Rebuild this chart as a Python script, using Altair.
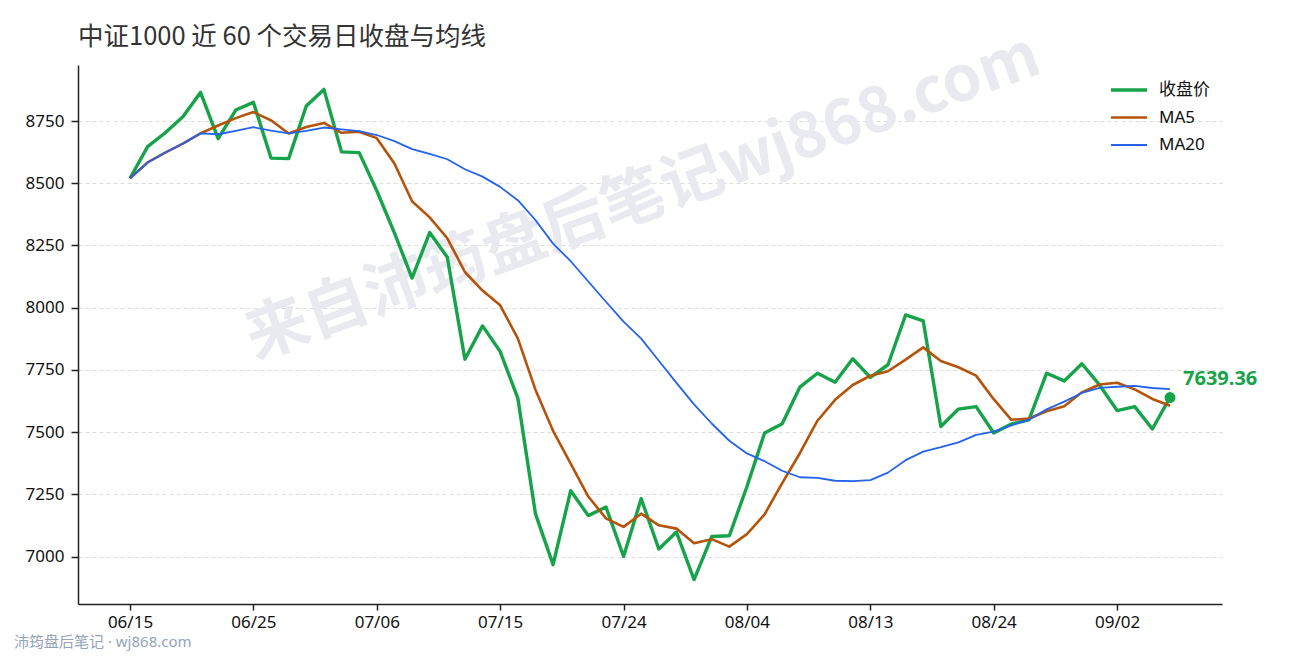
import altair as alt
import pandas as pd

plotWidth = 1144
plotHeight = 539

title = '中证1000 近 60 个交易日收盘与均线'
watermark = '来自沛筠盘后笔记wj868.com'
footer = '沛筠盘后笔记 · wj868.com'

dates = [
    '06/15', '06/16', '06/17', '06/18', '06/22', '06/23', '06/24', '06/25',
    '06/26', '06/29', '06/30', '07/01', '07/02', '07/03', '07/06', '07/07',
    '07/08', '07/09', '07/10', '07/13', '07/14', '07/15', '07/16', '07/17',
    '07/20', '07/21', '07/22', '07/23', '07/24', '07/27', '07/28', '07/29',
    '07/30', '07/31', '08/03', '08/04', '08/05', '08/06', '08/07', '08/10',
    '08/11', '08/12', '08/13', '08/14', '08/17', '08/18', '08/19', '08/20',
    '08/21', '08/24', '08/25', '08/26', '08/27', '08/28', '08/31', '09/01',
    '09/02', '09/03', '09/04', '09/07',
]
close = [
    8520, 8647, 8703, 8767, 8865, 8679, 8794, 8825, 8601, 8599,
    8810, 8877, 8626, 8623, 8470, 8301, 8119, 8302, 8203, 7793,
    7927, 7824, 7637, 7173, 6968, 7265, 7165, 7200, 7001, 7233,
    7031, 7099, 6908, 7081, 7084, 7282, 7497, 7534, 7681, 7737,
    7701, 7795, 7720, 7771, 7971, 7947, 7523, 7593, 7603, 7497,
    7533, 7550, 7737, 7706, 7775, 7690, 7587, 7603, 7513, 7639.36,
]
tick_labels = ['06/15', '06/25', '07/06', '07/15', '07/24',
               '08/04', '08/13', '08/24', '09/02']
y_ticks = [7000, 7250, 7500, 7750, 8000, 8250, 8500, 8750]

series = ['收盘价', 'MA5', 'MA20']
colors = ['#16a34a', '#b45309', '#2563eb']
widths = [3.4, 1.8, 1.8]

df = pd.DataFrame({'idx': list(range(len(close))), 'date': dates, 'close': close})

font = 'Noto Sans, Noto Sans CJK SC'

# trading-day index on x, labelled with the date strings
date_lookup = '[' + ','.join("'%s'" % d for d in dates) + '][datum.value]'
x_enc = alt.X('idx:Q', title=None,
              scale=alt.Scale(domain=[-2.95, len(close) - 1 + 2.95],
                              nice=False, zero=False),
              axis=alt.Axis(values=[dates.index(t) for t in tick_labels],
                            labelExpr=date_lookup, grid=False,
                            tickSize=6, labelPadding=4))
y_enc = alt.Y('value:Q', title=None,
              scale=alt.Scale(domain=[6810, 8975], nice=False, zero=False),
              axis=alt.Axis(values=y_ticks, format='d', grid=True,
                            tickSize=7, labelPadding=7))

base = alt.Chart(df).transform_window(
    MA5='mean(close)', frame=[-4, 0], sort=[alt.SortField('idx')]
).transform_window(
    MA20='mean(close)', frame=[-19, 0], sort=[alt.SortField('idx')]
)

lines = base.transform_fold(
    ['close', 'MA5', 'MA20'], as_=['key', 'value']
).transform_calculate(
    series="datum.key == 'close' ? '收盘价' : datum.key"
).mark_line(strokeJoin='round').encode(
    x=x_enc,
    y=y_enc,
    color=alt.Color('series:N', title=None,
                    scale=alt.Scale(domain=series, range=colors)),
    strokeWidth=alt.StrokeWidth('series:N', title=None,
                                scale=alt.Scale(domain=series, range=widths)),
    order='idx:Q',
)

last = base.transform_filter(alt.datum.idx == len(close) - 1).transform_calculate(
    value='datum.close')

dot = last.mark_circle(size=120, color='#16a34a', opacity=1).encode(
    x=x_enc, y=y_enc)

label = last.mark_text(align='left', baseline='middle', dx=13, dy=-19,
                       fontSize=20, fontWeight='bold', color='#16a34a',
                       font=font).encode(
    x=x_enc, y=y_enc, text=alt.Text('close:Q', format='.2f'))

mark_wm = alt.Chart(pd.DataFrame({'t': [watermark]})).mark_text(
    angle=340, fontSize=63, fontWeight='bold', color='#e8eaf0',
    font='Noto Sans CJK SC', align='center', baseline='middle'
).encode(x=alt.value(565), y=alt.value(133), text='t:N')

mark_footer = alt.Chart(pd.DataFrame({'t': [footer]})).mark_text(
    align='left', baseline='middle', fontSize=15, color='#94a3b8',
    font=font
).encode(x=alt.value(-64), y=alt.value(577), text='t:N')

chart = alt.layer(mark_wm, lines, dot, label, mark_footer).properties(
    width=plotWidth,
    height=plotHeight,
    title=alt.Title(title, anchor='start', frame='group', fontSize=25.5,
                    fontWeight='normal', color='#333333',
                    font='Noto Sans CJK SC', offset=16, dy=41),
    autosize=alt.AutoSizeParams(type='none'),
    padding={'left': 70, 'top': 57, 'right': 60, 'bottom': 48},
).configure_view(
    stroke=None
).configure_axis(
    labelFont=font, labelFontSize=17, labelColor='#111111',
    domainColor='#222222', domainWidth=1.5,
    tickColor='#222222', tickWidth=1.5,
    gridColor='#dddddd', gridDash=[4, 3], gridWidth=1,
).configure_legend(
    orient='none', legendX=1031, legendY=5, padding=0,
    symbolType='stroke', symbolSize=1300, labelFont=font,
    labelFontSize=17, labelColor='#111111', labelOffset=10, rowPadding=-1,
)

chart.save('out.html', embed_options={'renderer': 'svg', 'actions': False})
